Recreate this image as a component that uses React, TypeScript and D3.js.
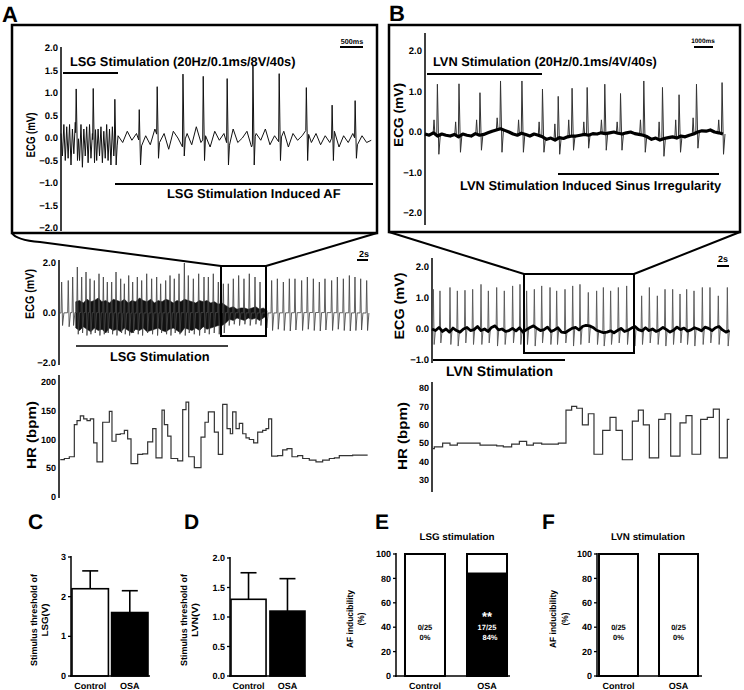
import React from "react";
import * as d3 from "d3";

type Pt = [number, number];
const FONT = "'Liberation Sans', Arial, Helvetica, sans-serif";

// ---------- Panel A (zoomed ECG, LSG) ----------
const aTopTicks = [2, 1.5, 1, 0.5, 0, -0.5, -1, -1.5, -2];
const aTopBeatTimes = [0.33, 0.7, 1.17, 1.7, 2.09, 2.65, 3.09, 3.61, 4.17, 4.74, 5.33, 5.89, 6.39];
const aTopBeatR = [1.09, 1.1, 0.86, 0.63, 1.14, 1.42, 1.37, 1.32, 1.62, 1.43, 1.12, 0.73, 0.83];
const aTopBeatS = [-0.5, -0.55, -0.6, -0.6, -0.45, -0.4, -0.5, -0.6, -0.6, -0.5, -0.5, -0.5, -0.45];
const aTopStimWave = [0.1, -0.4, 0.3, -0.5, 0.25, -0.45, 0.3, -0.6, 0.2, -0.35, 0.35, -0.55, 0.15, -0.5, 0.3, -0.65, 0.2, -0.4, 0.25, -0.55,
  0.3, -0.45, 0.1, -0.6, 0.35, -0.5, 0.2, -0.4, 0.25, -0.55, 0.15, -0.45, 0.3, -0.5, 0.2, -0.6, 0.25, -0.4, 0.1, -0.3];
const aTopAFWave = [0.05, -0.1, 0.15, -0.05, 0.1, -0.2, 0.05, -0.15, 0.2, -0.1, 0.1, -0.25, 0.15, 0, -0.2, 0.1, -0.15, 0.25, -0.1, 0.05,
  -0.2, 0.15, -0.05, 0.1, -0.25, 0.2, -0.1, 0, 0.15, -0.2, 0.1, -0.05, 0.2, -0.15, 0.05, -0.1, 0.15, -0.2, 0.1, -0.05,
  0.05, 0.2, -0.1, 0.1, -0.15, 0.05, -0.1, 0.15, -0.2, 0.05, -0.1, 0.1, -0.15, 0.05, -0.1, -0.05];

// ---------- Panel B (zoomed ECG, LVN) ----------
const bTopTicks = [2, 1, 0, -1, -2];
const bTopBeatTimes = [0.59, 1.62, 2.62, 3.6, 4.62, 5.6, 6.35, 7.01, 7.73, 8.57, 9.32, 10.43, 11.32, 12.11, 12.94, 14.16];
const bTopBeatR = [1.18, 1.19, 0.97, 1.26, 1.26, 1.06, 0.88, 1.08, 1.1, 1.18, 0.95, 1.26, 1.1, 0.92, 1.18, 1.22];
const bTopBeatS = [-0.55, -0.5, -0.45, -0.5, -0.5, -0.5, -0.55, -0.45, -0.4, -0.45, -0.45, -0.5, -0.6, -0.5, -0.4, -0.55];
const bTopBeatP = [0.3, 0.25, 0.3, 0.35, 0.3, 0.25, 0.2, 0.3, 0.25, 0.3, 0.25, 0.3, 0.25, 0.3, 0.35, 0.3];
const bTopBaseline = [-0.05, -0.08, -0.02, -0.1, -0.05, -0.08,
  -0.1, -0.06, -0.12, -0.05, -0.08, -0.1, -0.04, -0.08, -0.06, -0.02,
  0.02, 0.05, 0.08, 0.04, 0.0,
  -0.05, -0.08, -0.03, -0.06, -0.1, -0.05, -0.08,
  -0.12, -0.18, -0.15, -0.2, -0.14, -0.16, -0.12, -0.1,
  -0.1, -0.08, -0.06, -0.08, -0.04, -0.05, -0.02, -0.04,
  -0.02, 0.0, -0.03, -0.05, -0.02, 0.0, -0.04, -0.06, -0.08,
  -0.12, -0.18, -0.15, -0.2, -0.16, -0.14, -0.12, -0.15, -0.1, -0.12, -0.08,
  -0.05, 0.0, 0.03, 0.02, 0.05, 0.0, -0.02, -0.05];

// ---------- Panel A middle (full ECG) ----------
const aMidTicks = [2, 0, -2];
const aMidBeatTimes = [0.22, 1.1, 1.69, 2.31, 2.89, 3.47, 4.0, 4.58, 5.2, 5.78, 6.31, 6.89, 7.47, 8.09, 8.58, 9.16, 9.69, 10.31, 10.89, 11.56,
  12.22, 12.89, 13.42, 14.09, 14.67, 15.24, 15.87, 16.58, 17.11, 17.78, 18.49, 19.2, 19.78, 20.44, 21.11, 21.78, 22.44, 23.11, 23.82, 24.53,
  25.24, 26.0, 26.67, 27.45, 28.22, 28.98, 29.78, 30.58, 31.33, 32.22, 32.98, 33.78, 34.58, 35.33, 36.22, 36.98, 37.78, 38.58, 39.33, 40.09, 40.89];
const aMidBeatR = [1.24, 1.3, 1.44, 1.84, 1.44, 1.64, 1.37, 1.3, 1.57, 1.44, 1.24, 1.24, 1.64, 1.37, 1.17, 1.5, 1.24, 1.44, 1.3, 1.57,
  1.37, 1.44, 1.17, 1.3, 1.5, 1.37, 1.57, 2.0, 1.5, 1.37, 1.57, 1.44, 1.44, 1.57, 1.24, 1.17, 1.17, 1.37, 1.5, 1.37,
  1.57, 1.44, 1.24, 1.3, 1.3, 1.37, 1.24, 1.37, 1.37, 1.3, 1.44, 1.37, 1.24, 1.37, 1.3, 1.44, 1.37, 1.5, 1.44, 1.37, 1.3];
const aMidBeatS = [-0.5, -0.55, -0.5, -0.85, -0.8, -0.9, -0.85, -0.8, -0.9, -0.85, -0.8, -0.85, -0.9, -0.8, -0.85, -0.9, -0.8, -0.85, -0.9, -0.8,
  -0.85, -0.9, -0.8, -0.85, -0.9, -0.8, -0.85, -0.9, -0.8, -0.85, -0.9, -0.8, -0.85, -0.8, -0.85, -0.8, -0.5, -0.45, -0.5, -0.45,
  -0.5, -0.45, -0.5, -0.6, -0.7, -0.65, -0.7, -0.72, -0.68, -0.7, -0.65, -0.7, -0.72, -0.68, -0.7, -0.65, -0.7, -0.72, -0.7, -0.68, -0.7];
const aMidMassTop = [0.45, 0.5, 0.4, 0.55, 0.45, 0.5, 0.6, 0.45, 0.5, 0.4, 0.55, 0.5, 0.45, 0.55, 0.4, 0.5, 0.45, 0.6, 0.5, 0.45,
  0.55, 0.4, 0.5, 0.45, 0.55, 0.5, 0.4, 0.5, 0.45, 0.55, 0.5, 0.45, 0.4, 0.5, 0.45, 0.5, 0.4, 0.45, 0.35, 0.4, 0.3,
  0.2, 0.25, 0.15, 0.2, 0.2, 0.15, 0.2, 0.25, 0.15, 0.2, 0.1];
const aMidMassBottom = [-0.6, -0.7, -0.55, -0.65, -0.75, -0.6, -0.7, -0.65, -0.8, -0.6, -0.7, -0.65, -0.75, -0.6, -0.7, -0.8, -0.65, -0.7, -0.6, -0.75,
  -0.7, -0.65, -0.6, -0.7, -0.75, -0.65, -0.6, -0.7, -0.8, -0.6, -0.65, -0.7, -0.6, -0.7, -0.55, -0.65, -0.6, -0.55, -0.5, -0.5, -0.4,
  -0.25, -0.3, -0.2, -0.25, -0.3, -0.2, -0.25, -0.2, -0.3, -0.2, -0.1];

// ---------- Panel B middle (full ECG) ----------
const bMidTicks = [2, 1, 0, -1];
const bMidBeatTimes = [0.19, 1.14, 2.57, 3.62, 4.71, 5.81, 7.0, 8.05, 9.24, 10.33, 11.52, 12.57, 13.52, 14.62, 15.67, 16.86, 17.81, 19.0, 20.1, 21.14,
  22.33, 23.52, 24.48, 25.52, 26.62, 27.81, 28.86, 29.95, 31.05, 32.19, 33.29, 34.38, 35.43, 36.38, 37.43, 38.62, 39.71, 40.9, 42.19];
const bMidBeatR = [1.28, 1.23, 1.34, 1.23, 1.25, 1.28, 1.44, 1.23, 1.34, 1.23, 1.39, 1.44, 1.23, 1.28, 1.39, 1.34, 1.23, 1.28, 1.39, 1.44,
  1.18, 1.23, 1.34, 1.23, 1.34, 1.39, 1.02, 1.07, 1.34, 1.07, 1.28, 1.28, 1.13, 1.28, 1.23, 1.34, 1.34, 1.07, 1.34];
const bMidBeatS = [-0.5, -0.45, -0.5, -0.55, -0.45, -0.5, -0.5, -0.45, -0.55, -0.5, -0.45, -0.5, -0.5, -0.55, -0.45, -0.5, -0.5, -0.45, -0.55, -0.5,
  -0.45, -0.5, -0.55, -0.5, -0.45, -0.5, -0.55, -0.5, -0.45, -0.5, -0.55, -0.5, -0.45, -0.5, -0.55, -0.5, -0.45, -0.5, -0.55];
const bMidBaseline = [0, -0.05, 0.05, -0.08, 0, -0.1, 0.03, -0.05, -0.1, 0, 0.05, -0.05, -0.02, 0.08, -0.05, 0, -0.08, 0.05, 0.1, -0.03,
  0, -0.08, -0.05, 0.02, -0.06, 0.04, -0.1, -0.02, 0.05, 0.1, 0.02, -0.05, -0.02, 0.06, -0.08, -0.03, 0.04, -0.1, -0.12, -0.05,
  0.02, 0.05, -0.03, 0.08, 0.12, 0.1, 0.05, -0.04, -0.08, -0.12, -0.1, -0.06, -0.12, -0.05, 0.02, -0.08, -0.04, 0.03, 0.08, -0.02,
  -0.06, 0.04, -0.05, 0, -0.08, -0.03, 0.05, -0.02, -0.1, -0.04, 0.06, -0.02, 0.03, -0.07, -0.03, 0.04, 0, -0.06, 0.06, 0.02,
  -0.05, 0.04, 0.08, -0.03, -0.1, -0.05];

// ---------- Heart rate ----------
const hrATicks = [200, 150, 100, 50, 0];
const hrATimes = [0.04, 0.58, 1.24, 1.91, 2.27, 2.71, 3.16, 3.6, 4.04, 4.49, 4.93, 5.69, 6.58, 6.93, 7.47, 8.04, 8.58, 9.02, 9.47, 10.36,
  11.02, 11.69, 12.36, 12.8, 13.6, 13.91, 14.36, 14.8, 15.69, 16.36, 16.8, 17.16, 17.91, 18.8, 19.33, 19.78, 20.58, 21.11, 21.69, 22.27,
  22.71, 23.02, 23.47, 23.91, 24.36, 24.8, 25.24, 25.82, 26.36, 27.02, 27.47, 27.82, 28.22, 29.02, 29.69, 30.27, 30.93, 31.69, 32.36, 33.24,
  34.13, 35.02, 35.91, 36.58, 37.24, 38.13, 39.02, 41.02];
const hrAValues = [65, 67, 70, 126, 133, 141, 136, 133, 136, 94, 61, 130, 149, 97, 109, 110, 116, 101, 58, 74,
  75, 96, 119, 68, 151, 126, 106, 67, 63, 152, 165, 70, 51, 104, 130, 148, 113, 74, 161, 119,
  110, 148, 119, 128, 110, 103, 100, 94, 113, 116, 119, 136, 71, 72, 82, 84, 70, 72, 67, 64,
  61, 64, 67, 68, 72, 72, 73, 73];
const hrBTicks = [80, 70, 60, 50, 40, 30];
const hrBTimes = [0.1, 0.33, 1.52, 2.57, 3.62, 6.86, 9.24, 10.19, 11.38, 12.48, 13.52, 14.48, 15.67, 18.05, 19.14, 19.95, 20.67, 21.48, 22.33, 23.14,
  24.38, 25.43, 26.29, 27.19, 28.62, 29.48, 30.19, 31.05, 32.38, 33.29, 34.1, 35.43, 36.29, 37.14, 38.38, 39.33, 40.19, 41.05, 42.19, 42.48];
const hrBValues = [47, 48, 50, 49, 50, 49, 48.5, 48, 49.5, 51, 49, 50, 49.5, 50, 68, 70, 69, 60, 66, 44,
  57, 64, 57, 41, 62, 68, 60, 42, 63, 66, 43, 61, 65, 44, 63, 64, 68.5, 42, 63, 63];

// ---------- Bottom bar charts ----------
const groups = ["Control", "OSA"];
const lsgThrMean = [2.2, 1.6];
const lsgThrErr = [0.45, 0.55];
const lsgThrTicks = [0, 1, 2, 3];
const lvnThrMean = [1.3, 1.1];
const lvnThrErr = [0.45, 0.55];
const lvnThrTicks = [0, 0.5, 1, 1.5, 2];
const afTicks = [0, 20, 40, 60, 80, 100];
const afLsgPct = [0, 84];
const afLsgCount = ["0/25", "17/25"];
const afLsgPctLabel = ["0%", "84%"];
const afLvnPct = [0, 0];
const afLvnCount = ["0/25", "0/25"];
const afLvnPctLabel = ["0%", "0%"];

function makeInterp(bg: Pt[]) {
  const bis = d3.bisector((p: Pt) => p[0]).left;
  return (t: number) => {
    const i = bis(bg, t);
    if (i <= 0) return bg[0][1];
    if (i >= bg.length) return bg[bg.length - 1][1];
    const a = bg[i - 1], b = bg[i];
    return a[1] + ((t - a[0]) / (b[0] - a[0])) * (b[1] - a[1]);
  };
}

function buildTrace(bg: Pt[], times: number[], R: number[], S: number[], pre: number, fall: number, post: number): Pt[] {
  const interp = makeInterp(bg);
  const pts: Pt[] = bg.filter((p) => !times.some((b) => p[0] > b - pre && p[0] < b + post));
  times.forEach((b, i) => {
    pts.push([b - pre, interp(b - pre)]);
    pts.push([b, R[i] ?? 1.2]);
    pts.push([b + fall, S[i] ?? -0.5]);
    pts.push([b + post, interp(b + post)]);
  });
  pts.sort((a, b) => a[0] - b[0]);
  return pts;
}

function buildSpikes(bg: Pt[], times: number[], R: number[], S: number[], pre: number, fall: number, post: number, P?: number[]): Pt[][] {
  const interp = makeInterp(bg);
  return times.map((b, i) => {
    const seg: Pt[] = [];
    if (P) {
      seg.push([b - 0.2, interp(b - 0.2)], [b - 0.16, P[i] ?? 0.3], [b - 0.12, interp(b - 0.12)]);
    }
    seg.push([b - pre, interp(b - pre)], [b, R[i] ?? 1.2], [b + fall, S[i] ?? -0.5], [b + post, interp(b + post)]);
    return seg;
  });
}

const RotLabel = ({ x, y, text, fs, len }: any) => (
  <text transform={`translate(${x},${y}) rotate(-90)`} textAnchor="middle" dominantBaseline="central"
    fontSize={fs} fontWeight="bold" textLength={len} lengthAdjust="spacingAndGlyphs">{text}</text>
);

const TickLabels = ({ x, scale, ticks, fmt, fs, tick }: any) => (
  <g>
    {ticks.map((v: number) => (
      <g key={v}>
        {tick ? <line x1={x - tick} x2={x} y1={scale(v)} y2={scale(v)} stroke="#000" strokeWidth={1.3} /> : null}
        <text x={x - (tick ? tick + 2 : 3)} y={scale(v)} dy="0.35em" textAnchor="end" fontSize={fs} fontWeight="bold">{fmt(v)}</text>
      </g>
    ))}
  </g>
);

export default function App() {
  // ----- Top A -----
  const xAT = d3.scaleLinear().domain([0, 6.8]).range([61, 374]);
  const yAT = d3.scaleLinear().domain([-2, 2]).range([228, 48]);
  const aTopBg: Pt[] = [
    ...aTopStimWave.map((v, i) => [i * 0.031, v] as Pt),
    ...aTopAFWave.map((v, i) => [1.24 + i * 0.1, v] as Pt),
  ];
  const aTopTrace = buildTrace(aTopBg, aTopBeatTimes, aTopBeatR, aTopBeatS, 0.012, 0.028, 0.05);
  const lineAT = d3.line<Pt>().x((d) => xAT(d[0])).y((d) => yAT(d[1]));

  // ----- Top B -----
  const xBT = d3.scaleLinear().domain([0, 14.3]).range([425, 725]);
  const yBT = d3.scaleLinear().domain([-2, 2]).range([213, 51]);
  const bTopBg: Pt[] = bTopBaseline.map((v, i) => [i * 0.2, v] as Pt);
  const bTopSpikes = buildSpikes(bTopBg, bTopBeatTimes, bTopBeatR, bTopBeatS, 0.03, 0.07, 0.14, bTopBeatP);
  const lineBT = d3.line<Pt>().x((d) => xBT(d[0])).y((d) => yBT(d[1]));

  // ----- Mid A -----
  const xAM = d3.scaleLinear().domain([0, 41]).range([60, 367.5]);
  const yAM = d3.scaleLinear().domain([-2, 2]).range([363, 263]);
  const aMidBg: Pt[] = [[0, 0], [2, 0.02], [10, 0], [20, 0.02], [27.5, 0], [34, 0.02], [41, 0]];
  const aMidTrace = buildTrace(aMidBg, aMidBeatTimes, aMidBeatR, aMidBeatS, 0.08, 0.12, 0.3);
  const lineAM = d3.line<Pt>().x((d) => xAM(d[0])).y((d) => yAM(d[1]));
  const massAM = d3.area<number>()
    .x((_, i) => xAM(2.1 + i * 0.5))
    .y0((_, i) => yAM(aMidMassBottom[i]))
    .y1((d) => yAM(d));

  // ----- Mid B -----
  const xBM = d3.scaleLinear().domain([0, 42.5]).range([432, 729.5]);
  const yBM = d3.scaleLinear().domain([-1, 2]).range([360, 267]);
  const bMidBg: Pt[] = bMidBaseline.map((v, i) => [i * 0.5, v] as Pt);
  const bMidSpikes = buildSpikes(bMidBg, bMidBeatTimes, bMidBeatR, bMidBeatS, 0.08, 0.12, 0.3);
  const lineBM = d3.line<Pt>().x((d) => xBM(d[0])).y((d) => yBM(d[1]));

  // ----- HR -----
  const yHA = d3.scaleLinear().domain([0, 200]).range([497, 382]);
  const yHB = d3.scaleLinear().domain([30, 80]).range([480, 388]);
  const hrALine = d3.line<number>().curve(d3.curveStepAfter).x((_, i) => xAM(hrATimes[i])).y((d) => yHA(d));
  const hrBLine = d3.line<number>().curve(d3.curveStepAfter).x((_, i) => xBM(hrBTimes[i])).y((d) => yHB(d));

  // ----- Bottom -----
  const yC = d3.scaleLinear().domain([0, 3]).range([676, 557]);
  const xC = d3.scaleBand<string>().domain(groups).range([72, 148]).paddingInner(0.08);
  const yD = d3.scaleLinear().domain([0, 2]).range([676, 558]);
  const xD = d3.scaleBand<string>().domain(groups).range([231, 305]).paddingInner(0.1);
  const yE = d3.scaleLinear().domain([0, 100]).range([676, 554]);
  const xE = d3.scaleBand<string>().domain(groups).range([396, 516]).paddingInner(0.355).paddingOuter(0.145);
  const xF = d3.scaleBand<string>().domain(groups).range([597, 700]).paddingInner(0.35).paddingOuter(0.033);

  const thrBars = (xs: any, ys: any, means: number[], errs: number[]) =>
    groups.map((g, i) => {
      const x0 = xs(g)!, bw = xs.bandwidth();
      const cx = x0 + bw / 2;
      return (
        <g key={g}>
          <line x1={cx} x2={cx} y1={ys(means[i])} y2={ys(means[i] + errs[i])} stroke="#000" strokeWidth={1.6} />
          <line x1={cx - 8} x2={cx + 8} y1={ys(means[i] + errs[i])} y2={ys(means[i] + errs[i])} stroke="#000" strokeWidth={1.6} />
          <rect x={x0} y={ys(means[i])} width={bw} height={ys(0) - ys(means[i])}
            fill={i === 0 ? "#fff" : "#000"} stroke="#000" strokeWidth={1.6} />
        </g>
      );
    });

  const afBars = (xs: any, pct: number[], counts: string[], labels: string[]) =>
    groups.map((g, i) => {
      const x0 = xs(g)!, bw = xs.bandwidth();
      const cx = x0 + bw / 2;
      const txtFill = pct[i] > 50 ? "#fff" : "#000";
      return (
        <g key={g}>
          <rect x={x0} y={yE(100)} width={bw} height={yE(0) - yE(100)} fill="#fff" stroke="#000" strokeWidth={2} />
          {pct[i] > 0 ? <rect x={x0} y={yE(pct[i])} width={bw} height={yE(0) - yE(pct[i])} fill="#000" stroke="#000" strokeWidth={2} /> : null}
          {pct[i] > 50 ? <text x={cx} y={yE(45)} textAnchor="middle" fontSize={13} fontWeight="bold" fill="#fff">**</text> : null}
          <text x={cx} y={yE(40)} dy="0.35em" textAnchor="middle" fontSize={7.5} fontWeight="bold" fill={txtFill}>{counts[i]}</text>
          <text x={cx + (pct[i] > 50 ? 3 : 0)} y={yE(32)} dy="0.35em" textAnchor="middle" fontSize={7.5} fontWeight="bold" fill={txtFill}>{labels[i]}</text>
        </g>
      );
    });

  const catLabels = (xs: any) =>
    groups.map((g) => (
      <text key={g} x={xs(g)! + xs.bandwidth() / 2} y={689} textAnchor="middle" fontSize={9} fontWeight="bold">{g}</text>
    ));

  const f1 = d3.format(".1f");
  const f0 = d3.format("d");

  return (
    <svg width={744} height={690} style={{ position: "absolute", left: 0, top: 0, background: "#fff" }}
      fontFamily={FONT} textRendering="geometricPrecision">
      <rect x={0} y={0} width={744} height={690} fill="#fff" />

      {/* Panel letters */}
      <text x={2} y={22} fontSize={22} fontWeight="bold">A</text>
      <text x={389} y={21} fontSize={22} fontWeight="bold">B</text>
      <text x={28} y={529} fontSize={21} fontWeight="bold">C</text>
      <text x={184} y={529} fontSize={21} fontWeight="bold">D</text>
      <text x={375} y={529} fontSize={21} fontWeight="bold">E</text>
      <text x={542} y={529} fontSize={21} fontWeight="bold">F</text>

      {/* ===== Top A box ===== */}
      <rect x={12} y={25} width={365} height={208} fill="none" stroke="#000" strokeWidth={2.5} />
      <line x1={61} x2={61} y1={47} y2={231} stroke="#000" strokeWidth={1.5} />
      <TickLabels x={61} scale={yAT} ticks={aTopTicks} fmt={f1} fs={9.5} />
      <RotLabel x={31} y={135} text="ECG (mV)" fs={12.5} len={45} />
      <text x={70} y={66} fontSize={12.8} fontWeight="bold">LSG Stimulation (20Hz/0.1ms/8V/40s)</text>
      <line x1={63} x2={118} y1={73} y2={73} stroke="#000" strokeWidth={2} />
      <text x={352} y={44} textAnchor="middle" fontSize={7.2} fontWeight="bold">500ms</text>
      <line x1={340} x2={363} y1={47} y2={47} stroke="#000" strokeWidth={2} />
      <path d={lineAT(aTopTrace)!} fill="none" stroke="#111" strokeWidth={1} />
      <line x1={115} x2={373} y1={184} y2={184} stroke="#000" strokeWidth={2} />
      <text x={167} y={198} fontSize={12.9} fontWeight="bold">LSG Stimulation Induced AF</text>

      {/* ===== Top B box ===== */}
      <rect x={389} y={25} width={351} height={207} fill="none" stroke="#000" strokeWidth={2.5} />
      <line x1={425} x2={425} y1={33} y2={225} stroke="#000" strokeWidth={1.5} />
      <TickLabels x={425} scale={yBT} ticks={bTopTicks} fmt={f1} fs={9.5} />
      <RotLabel x={398} y={115} text="ECG (mV)" fs={13} len={64} />
      <text x={433} y={66} fontSize={12.8} fontWeight="bold">LVN Stimulation (20Hz/0.1ms/4V/40s)</text>
      <line x1={427} x2={542} y1={74} y2={74} stroke="#000" strokeWidth={2} />
      <text x={703} y={43} textAnchor="middle" fontSize={6.4} fontWeight="bold">1000ms</text>
      <line x1={694} x2={713} y1={47} y2={47} stroke="#000" strokeWidth={2} />
      {bTopSpikes.map((s, i) => (
        <path key={i} d={lineBT(s)!} fill="none" stroke="#333" strokeWidth={1} />
      ))}
      <path d={lineBT(bTopBg)!} fill="none" stroke="#000" strokeWidth={3.2} strokeLinejoin="round" />
      <line x1={558} x2={719} y1={174} y2={174} stroke="#000" strokeWidth={2} />
      <text x={460} y={190} fontSize={12.9} fontWeight="bold">LVN Stimulation Induced Sinus Irregularity</text>

      {/* ===== connectors ===== */}
      <path d="M12,233 Q16,240 40,242 L221,266" fill="none" stroke="#000" strokeWidth={2} />
      <path d="M377,233 L266,266" fill="none" stroke="#000" strokeWidth={2} />
      <path d="M389,232 L524,274" fill="none" stroke="#000" strokeWidth={2} />
      <path d="M740,232 L634,274" fill="none" stroke="#000" strokeWidth={2} />

      {/* ===== Mid A ===== */}
      <line x1={59} x2={59} y1={260} y2={365} stroke="#000" strokeWidth={1.5} />
      <TickLabels x={59} scale={yAM} ticks={aMidTicks} fmt={f1} fs={9.5} />
      <RotLabel x={30} y={294} text="ECG (mV)" fs={12.5} len={50} />
      <path d={massAM(aMidMassTop)!} fill="#111" stroke="#111" strokeWidth={0.6} />
      <path d={lineAM(aMidTrace)!} fill="none" stroke="#444" strokeWidth={0.85} />
      <rect x={221} y={266} width={45} height={70} fill="none" stroke="#000" strokeWidth={2} />
      <text x={364} y={257} textAnchor="middle" fontSize={9} fontWeight="bold">2s</text>
      <line x1={357} x2={368} y1={260} y2={260} stroke="#000" strokeWidth={2} />
      <line x1={76} x2={228} y1={346} y2={346} stroke="#000" strokeWidth={1.5} />
      <text x={110} y={361} fontSize={12.8} fontWeight="bold">LSG Stimulation</text>

      {/* ===== Mid B ===== */}
      <line x1={432} x2={432} y1={258} y2={363} stroke="#000" strokeWidth={1.5} />
      <TickLabels x={432} scale={yBM} ticks={bMidTicks} fmt={f1} fs={9.5} />
      <RotLabel x={399} y={306} text="ECG (mV)" fs={13.5} len={67} />
      {bMidSpikes.map((s, i) => (
        <path key={i} d={lineBM(s)!} fill="none" stroke="#555" strokeWidth={0.9} />
      ))}
      <path d={lineBM(bMidBg)!} fill="none" stroke="#000" strokeWidth={2.8} strokeLinejoin="round" />
      <rect x={524} y={274} width={110} height={79} fill="none" stroke="#000" strokeWidth={2} />
      <text x={723} y={262} textAnchor="middle" fontSize={9} fontWeight="bold">2s</text>
      <line x1={717} x2={729} y1={266} y2={266} stroke="#000" strokeWidth={2} />
      <line x1={433} x2={565} y1={360} y2={360} stroke="#000" strokeWidth={2} />
      <text x={446} y={376} fontSize={14} fontWeight="bold">LVN Stimulation</text>

      {/* ===== HR A ===== */}
      <line x1={59} x2={59} y1={375} y2={498} stroke="#000" strokeWidth={1.5} />
      <TickLabels x={59} scale={yHA} ticks={hrATicks} fmt={f0} fs={9} />
      <RotLabel x={31} y={435} text="HR (bpm)" fs={13} len={68} />
      <path d={hrALine(hrAValues)!} fill="none" stroke="#333" strokeWidth={1.2} />

      {/* ===== HR B ===== */}
      <line x1={432} x2={432} y1={382} y2={492} stroke="#000" strokeWidth={1.5} />
      <TickLabels x={432} scale={yHB} ticks={hrBTicks} fmt={f0} fs={9} />
      <RotLabel x={402} y={436} text="HR (bpm)" fs={13} len={68} />
      <path d={hrBLine(hrBValues)!} fill="none" stroke="#333" strokeWidth={1.2} />

      {/* ===== C ===== */}
      <g>
        <RotLabel x={34} y={620} text="Stimulus threshold of" fs={9} len={92} />
        <RotLabel x={45} y={620} text="LSG(V)" fs={9} len={33} />
        <TickLabels x={71} scale={yC} ticks={lsgThrTicks} fmt={f0} fs={9} tick={3} />
        {thrBars(xC, yC, lsgThrMean, lsgThrErr)}
        <line x1={71} x2={71} y1={556} y2={677} stroke="#000" strokeWidth={1.5} />
        <line x1={70} x2={150} y1={676} y2={676} stroke="#000" strokeWidth={1.5} />
        {catLabels(xC)}
      </g>

      {/* ===== D ===== */}
      <g>
        <RotLabel x={184} y={620} text="Stimulus threshold of" fs={9} len={92} />
        <RotLabel x={195} y={620} text="LVN(V)" fs={9} len={34} />
        <TickLabels x={230} scale={yD} ticks={lvnThrTicks} fmt={f1} fs={9} tick={3} />
        {thrBars(xD, yD, lvnThrMean, lvnThrErr)}
        <line x1={230} x2={230} y1={557} y2={677} stroke="#000" strokeWidth={1.5} />
        <line x1={229} x2={306} y1={676} y2={676} stroke="#000" strokeWidth={1.5} />
        {catLabels(xD)}
      </g>

      {/* ===== E ===== */}
      <g>
        <text x={457} y={540} textAnchor="middle" fontSize={9.8} fontWeight="bold">LSG stimulation</text>
        <RotLabel x={350} y={619} text="AF inducibility" fs={9} len={58} />
        <RotLabel x={361} y={619} text="(%)" fs={9} len={13} />
        <TickLabels x={396} scale={yE} ticks={afTicks} fmt={f0} fs={9} tick={3} />
        {afBars(xE, afLsgPct, afLsgCount, afLsgPctLabel)}
        <line x1={396} x2={396} y1={553} y2={677} stroke="#000" strokeWidth={1.5} />
        <line x1={395} x2={510} y1={676} y2={676} stroke="#000" strokeWidth={1.5} />
        {catLabels(xE)}
      </g>

      {/* ===== F ===== */}
      <g>
        <text x={648} y={540} textAnchor="middle" fontSize={9.8} fontWeight="bold">LVN stimulation</text>
        <RotLabel x={553} y={619} text="AF inducibility" fs={9} len={58} />
        <RotLabel x={565} y={619} text="(%)" fs={9} len={13} />
        <TickLabels x={597} scale={yE} ticks={afTicks} fmt={f0} fs={9} tick={3} />
        {afBars(xF, afLvnPct, afLvnCount, afLvnPctLabel)}
        <line x1={597} x2={597} y1={553} y2={677} stroke="#000" strokeWidth={1.5} />
        <line x1={596} x2={702} y1={676} y2={676} stroke="#000" strokeWidth={1.5} />
        {catLabels(xF)}
      </g>
    </svg>
  );
}
